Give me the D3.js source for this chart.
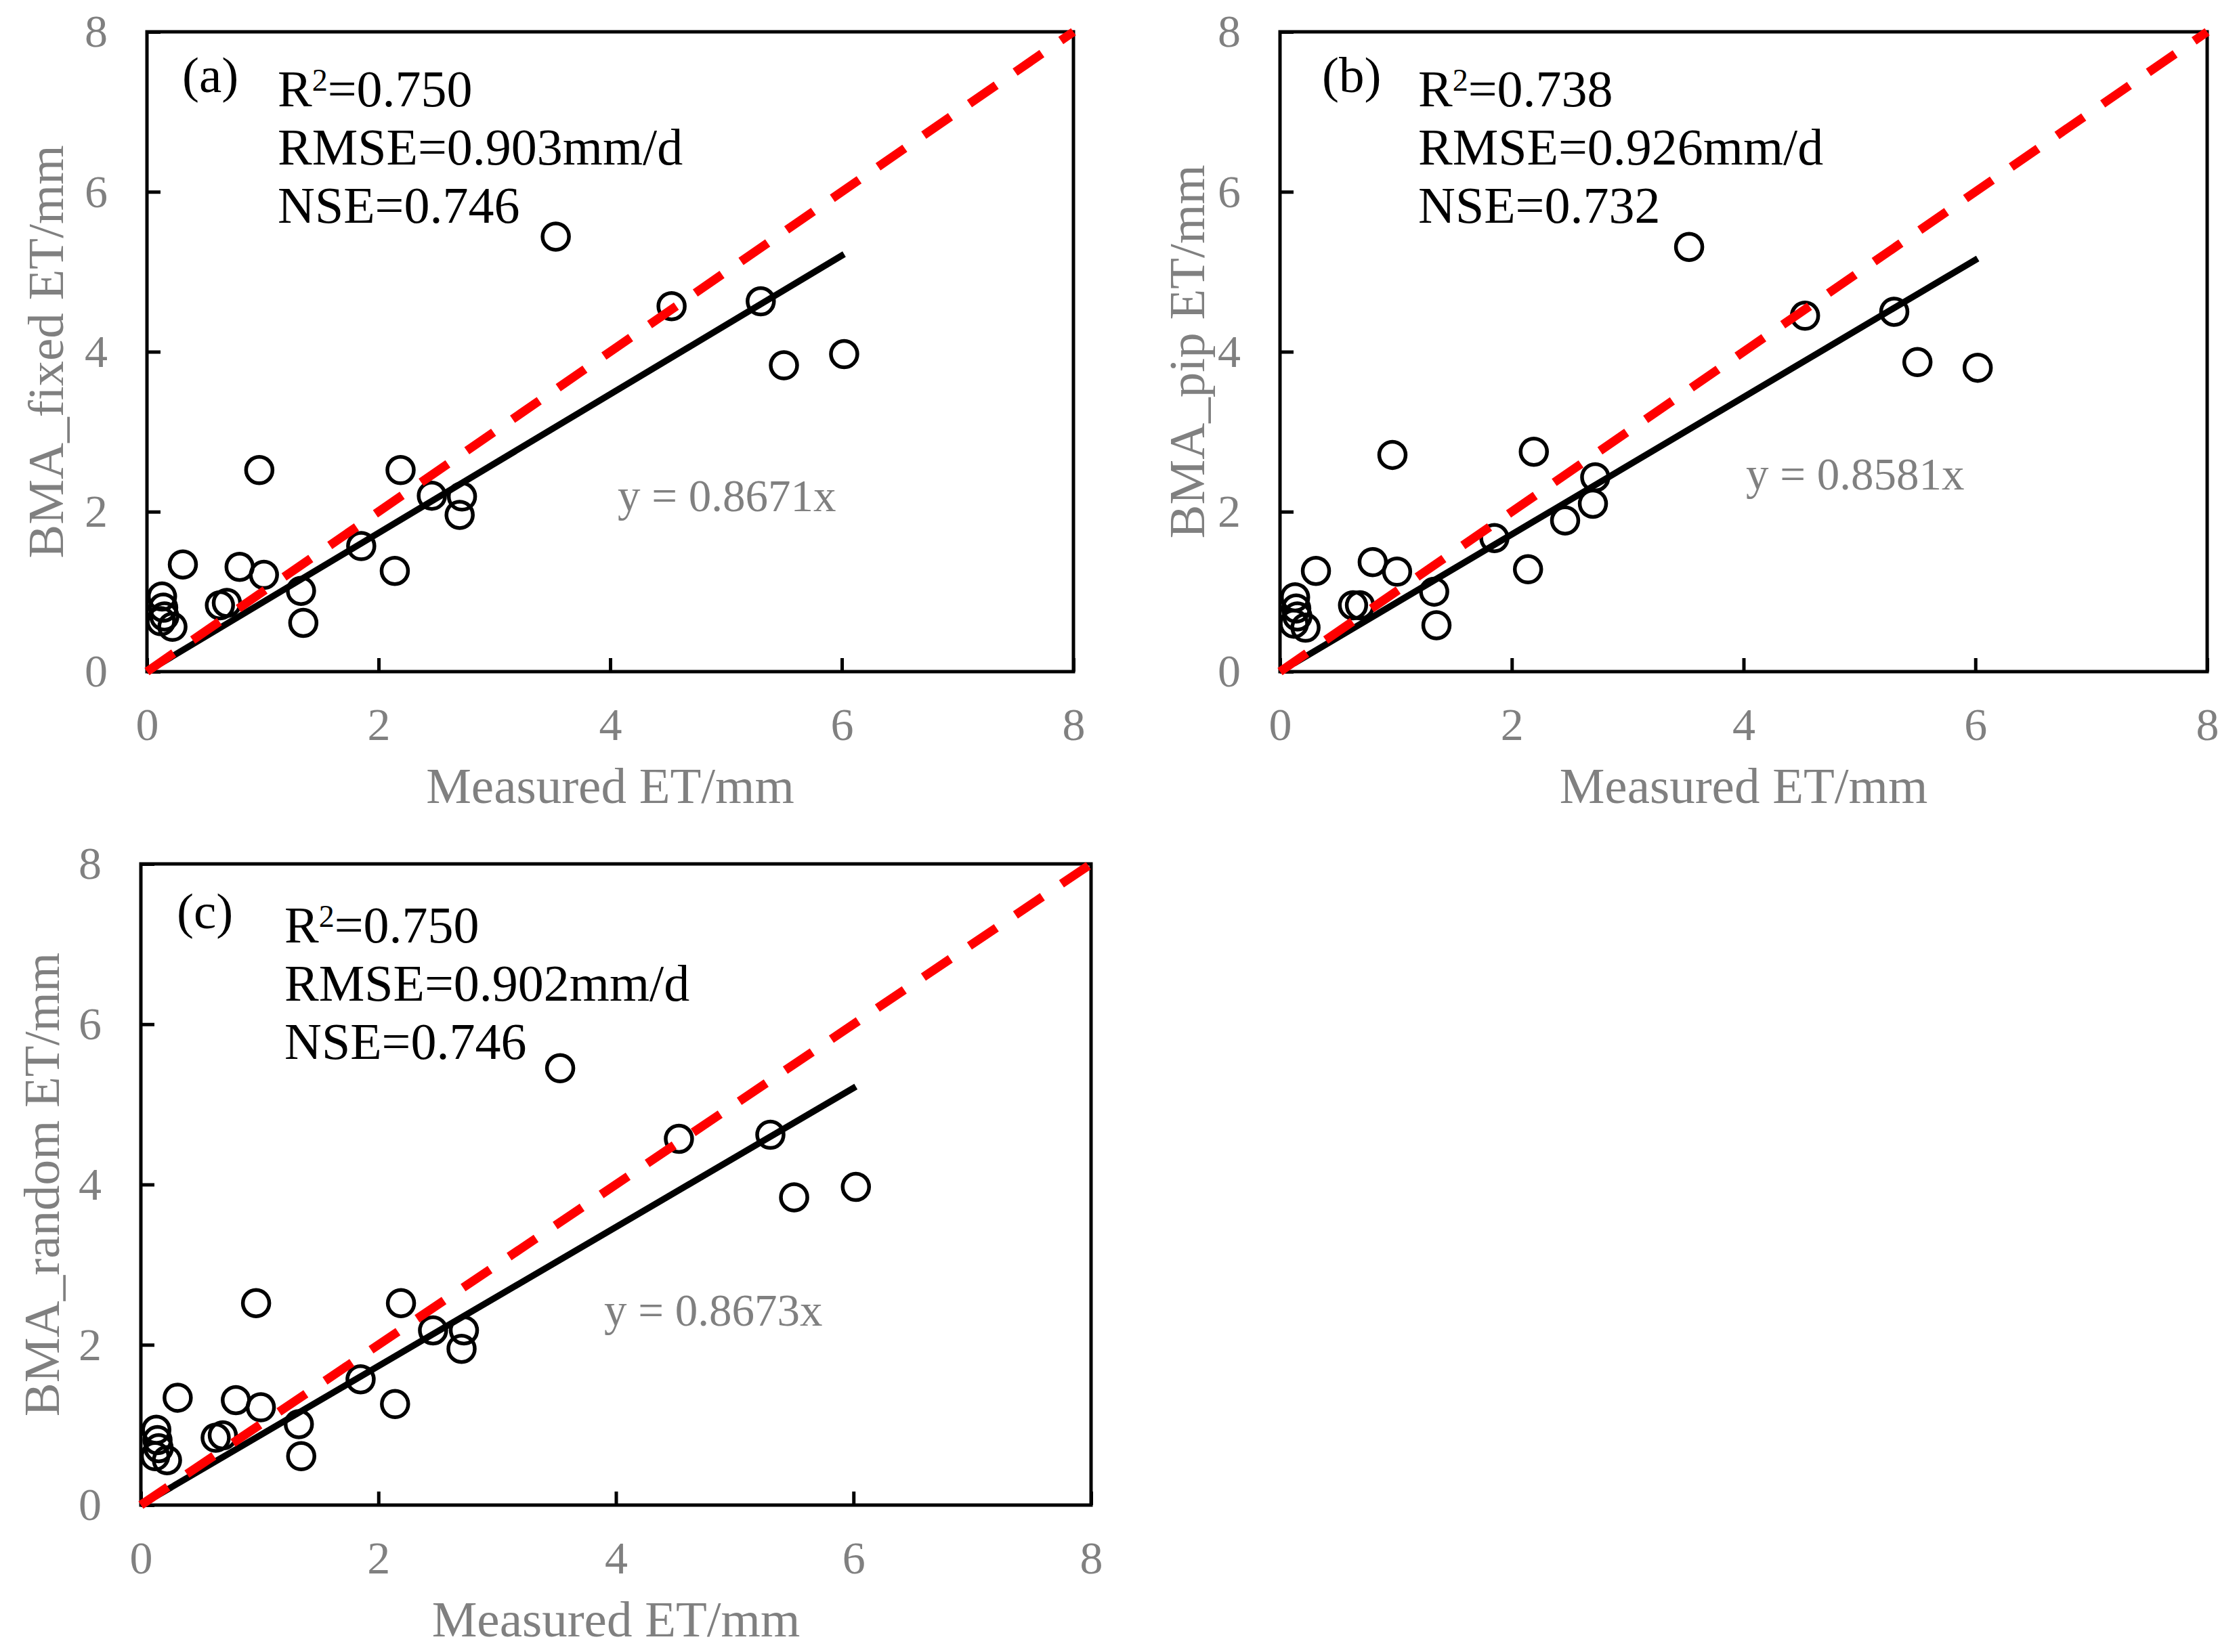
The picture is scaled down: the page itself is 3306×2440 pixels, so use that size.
<!DOCTYPE html>
<html>
<head>
<meta charset="utf-8">
<script src="https://cdn.jsdelivr.net/npm/d3@7"></script>
<style>
  html, body { margin: 0; padding: 0; background: #fff; }
  svg { display: block; font-family: "Liberation Serif", "Times New Roman", serif; }
</style>
</head>
<body>
<div id="chart"></div>
<script>
// measured ET shared by all three panels
const measured = [0.12, 0.13, 0.14, 0.15, 0.22, 0.31, 0.63, 0.69, 0.80, 0.97, 1.01, 1.33,
  1.35, 1.85, 2.14, 2.19, 2.46, 2.70, 2.72, 3.53, 4.53, 5.30, 5.50, 6.02];

const bmaFixed = [0.63, 0.94, 0.80, 0.69, 0.56, 1.34, 0.83, 0.86, 1.31, 2.52, 1.21, 1.01,
  0.61, 1.57, 1.26, 2.52, 2.20, 1.96, 2.19, 5.44, 4.57, 4.63, 3.83, 3.97];
const bmaPip = [0.60, 0.93, 0.79, 0.69, 0.55, 1.26, 0.83, 0.83, 1.37, 2.71, 1.25, 1.00,
  0.58, 1.67, 1.28, 2.75, 1.89, 2.10, 2.43, 5.31, 4.45, 4.50, 3.87, 3.80];
const bmaRandom = [0.61, 0.94, 0.81, 0.71, 0.56, 1.34, 0.84, 0.87, 1.31, 2.52, 1.22, 1.01,
  0.61, 1.57, 1.26, 2.52, 2.18, 1.95, 2.18, 5.45, 4.57, 4.62, 3.84, 3.97];

const panelLabels = ['(a)', '(b)', '(c)'];
const yTitles = ['BMA_fixed ET/mm', 'BMA_pip ET/mm', 'BMA_random ET/mm'];
const slopes = [0.8671, 0.8581, 0.8673];
const r2Values = ['0.750', '0.738', '0.750'];
const rmseValues = ['0.903', '0.926', '0.902'];
const nseValues = ['0.746', '0.732', '0.746'];
const axisTicks = [0, 2, 4, 6, 8];
const axisDomain = [0, 8];

const GRAY = '#808080';

class ScatterPanel {
  constructor(svg, box, opts) {
    this.svg = svg;
    this.box = box;
    this.opts = opts;
    this.initVis();
  }

  initVis() {
    const vis = this;
    const b = vis.box;

    vis.g = vis.svg.append('g')
      .attr('transform', 'translate(' + b.left + ',' + b.top + ')');

    vis.x = d3.scaleLinear().domain(axisDomain).range([0, b.width]);
    vis.y = d3.scaleLinear().domain(axisDomain).range([b.height, 0]);

    // ticks point inward, labels outside
    const xAxisCall = d3.axisBottom(vis.x).tickValues(axisTicks)
      .tickSizeInner(-20).tickSizeOuter(0).tickPadding(53);
    const yAxisCall = d3.axisLeft(vis.y).tickValues(axisTicks)
      .tickSizeInner(-20).tickSizeOuter(0).tickPadding(58);

    const xAxis = vis.g.append('g')
      .attr('transform', 'translate(0,' + b.height + ')')
      .call(xAxisCall);
    const yAxis = vis.g.append('g').call(yAxisCall);

    [xAxis, yAxis].forEach(ax => {
      ax.select('.domain').remove();
      ax.selectAll('.tick line').attr('stroke', '#000').attr('stroke-width', 5);
      ax.selectAll('.tick text')
        .attr('fill', GRAY)
        .attr('font-size', 68)
        .attr('font-family', '"Liberation Serif", serif');
    });

    vis.g.append('rect')
      .attr('x', 0).attr('y', 0)
      .attr('width', b.width).attr('height', b.height)
      .attr('fill', 'none')
      .attr('stroke', '#000')
      .attr('stroke-width', 5);

    vis.g.append('text')
      .attr('x', b.width / 2)
      .attr('y', b.height + 194)
      .attr('text-anchor', 'middle')
      .attr('font-size', 75)
      .attr('fill', GRAY)
      .text('Measured ET/mm');

    vis.g.append('text')
      .attr('transform', 'translate(' + (-b.yTitleGap) + ',' + (b.height / 2) + ') rotate(-90)')
      .attr('text-anchor', 'middle')
      .attr('font-size', 75)
      .attr('fill', GRAY)
      .text(vis.opts.yTitle);

    vis.updateVis();
  }

  updateVis() {
    const vis = this;
    const o = vis.opts;
    const pts = measured.map((m, i) => ({ m: m, p: o.values[i] }));

    vis.g.selectAll('circle.pt')
      .data(pts)
      .join('circle')
      .attr('class', 'pt')
      .attr('cx', d => vis.x(d.m))
      .attr('cy', d => vis.y(d.p))
      .attr('r', 19.5)
      .attr('fill', 'none')
      .attr('stroke', '#000')
      .attr('stroke-width', 5.5);

    // trendline through origin over the measured range
    const xExt = d3.extent(measured);
    const line = d3.line().x(d => vis.x(d[0])).y(d => vis.y(d[1]));

    vis.g.append('path')
      .datum(xExt.map(v => [v, v * o.slope]))
      .attr('d', line)
      .attr('fill', 'none')
      .attr('stroke', '#000')
      .attr('stroke-width', 9.5);

    // 1:1 line
    vis.g.append('path')
      .datum(axisDomain.map(v => [v, v]))
      .attr('d', line)
      .attr('fill', 'none')
      .attr('stroke', '#ff0000')
      .attr('stroke-width', 13)
      .attr('stroke-dasharray', '48 34');

    vis.g.append('text')
      .attr('x', o.labelX)
      .attr('y', o.textTop)
      .attr('font-size', 75)
      .attr('fill', '#000')
      .text(o.label);

    const stats = vis.g.append('text')
      .attr('font-size', 76)
      .attr('fill', '#000');
    const r2 = stats.append('tspan').attr('x', o.statsX).attr('y', o.textTop + 21);
    r2.append('tspan').text('R');
    r2.append('tspan').attr('font-size', 46).attr('dy', -23).text('2');
    r2.append('tspan').attr('dy', 23).text('=' + o.r2);
    stats.append('tspan').attr('x', o.statsX).attr('y', o.textTop + 107)
      .text('RMSE=' + o.rmse + 'mm/d');
    stats.append('tspan').attr('x', o.statsX).attr('y', o.textTop + 193)
      .text('NSE=' + o.nse);

    vis.g.append('text')
      .attr('x', o.eqX)
      .attr('y', o.eqY)
      .attr('font-size', 67)
      .attr('fill', GRAY)
      .text('y = ' + o.slope.toFixed(4) + 'x');
  }
}

const width = 3306;
const height = 2440;

const svg = d3.select('#chart')
  .append('svg')
  .attr('width', width)
  .attr('height', height);

svg.append('rect').attr('width', width).attr('height', height).attr('fill', '#fff');

const boxes = [
  { left: 217, top: 47, width: 1368, height: 945, yTitleGap: 124 },
  { left: 1890, top: 47, width: 1369, height: 945, yTitleGap: 112 },
  { left: 208, top: 1276, width: 1403, height: 947, yTitleGap: 121 }
];
const textPos = [
  { labelX: 52, statsX: 193, textTop: 89, eqX: 695, eqY: 708 },
  { labelX: 62, statsX: 204, textTop: 89, eqX: 688, eqY: 676 },
  { labelX: 53, statsX: 212, textTop: 95, eqX: 684, eqY: 682 }
];
const seriesValues = [bmaFixed, bmaPip, bmaRandom];

boxes.forEach((box, i) => {
  new ScatterPanel(svg, box, Object.assign({
    label: panelLabels[i],
    yTitle: yTitles[i],
    slope: slopes[i],
    r2: r2Values[i],
    rmse: rmseValues[i],
    nse: nseValues[i],
    values: seriesValues[i]
  }, textPos[i]));
});
</script>
</body>
</html>
